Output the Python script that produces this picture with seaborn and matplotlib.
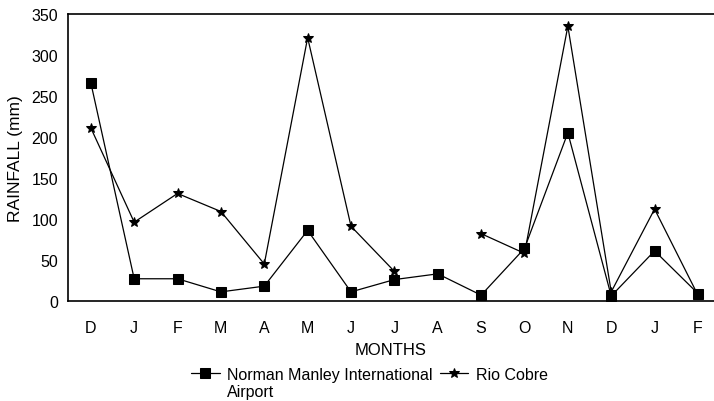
import numpy as np
import pandas as pd
import seaborn as sns
import matplotlib.pyplot as plt

months = ['D', 'J', 'F', 'M', 'A', 'M', 'J', 'J', 'A', 'S', 'O', 'N', 'D', 'J', 'F']
norman_manley = [266, 27, 27, 11, 18, 86, 11, 26, 33, 7, 64, 205, 6, 61, 9]
rio_cobre = [211, 96, 131, 109, 45, 321, 91, 36, np.nan, 82, 58, 335, 11, 112, 7]

sns.set_theme(style='white')
plt.rcParams['font.family'] = ['Liberation Sans', 'DejaVu Sans']
plt.rcParams['text.color'] = 'black'
plt.rcParams['axes.labelcolor'] = 'black'

idx = np.arange(len(months))
df = pd.DataFrame({
    'pos': np.concatenate([idx, idx]),
    'rain': norman_manley + rio_cobre,
    'station': ['Norman Manley International'] * len(idx) + ['Rio Cobre'] * len(idx),
})

fig = plt.figure(figsize=(7.14, 4.02), dpi=100)
ax = fig.add_axes([0.095, 0.249, 0.905, 0.714])

# split rio cobre at the missing value so the line breaks like the original
df['seg'] = 0
rc = df['station'] == 'Rio Cobre'
df.loc[rc & (df['pos'] > 8), 'seg'] = 1
df = df.dropna()

sns.lineplot(data=df, x='pos', y='rain', hue='station', style='station', units='seg',
             estimator=None, markers={'Norman Manley International': 's', 'Rio Cobre': '*'},
             dashes=False, palette=['black', 'black'], linewidth=0.9, markersize=7,
             markeredgecolor='black', sort=False, ax=ax)

ax.set_xlim(-0.53, 14.37)
ax.set_ylim(0, 350)
ax.set_yticks(range(0, 351, 50))
ax.set_xticks(idx)
ax.set_xticklabels(months)
ax.tick_params(axis='both', labelsize=11.5, length=0, colors='black')
ax.tick_params(axis='x', pad=14)
ax.tick_params(axis='y', pad=7)
ax.set_xlabel('MONTHS', fontsize=12, labelpad=5)
ax.set_ylabel('RAINFALL (mm)', fontsize=12.5, labelpad=6)
for s in ['left', 'bottom', 'top']:
    ax.spines[s].set_color('black')
    ax.spines[s].set_linewidth(1.2)
ax.spines['right'].set_visible(False)

handles, labels = ax.get_legend_handles_labels()
ax.legend_.remove()
leg = fig.legend(handles, labels, loc='upper left', bbox_to_anchor=(191 / 714, 1 - 368 / 402),
                 ncol=2, frameon=False, fontsize=11.5, handlelength=1.8, handletextpad=0.45,
                 columnspacing=0.45, borderpad=0, borderaxespad=0)

# second line of the first legend label, sitting under "Norman"
fig.canvas.draw()
bb = leg.get_texts()[0].get_window_extent().transformed(fig.transFigure.inverted())
fig.text(bb.x0, bb.y0 - 0.004, 'Airport', fontsize=11.5, va='top', ha='left')

fig.savefig('out.png', dpi=100)
